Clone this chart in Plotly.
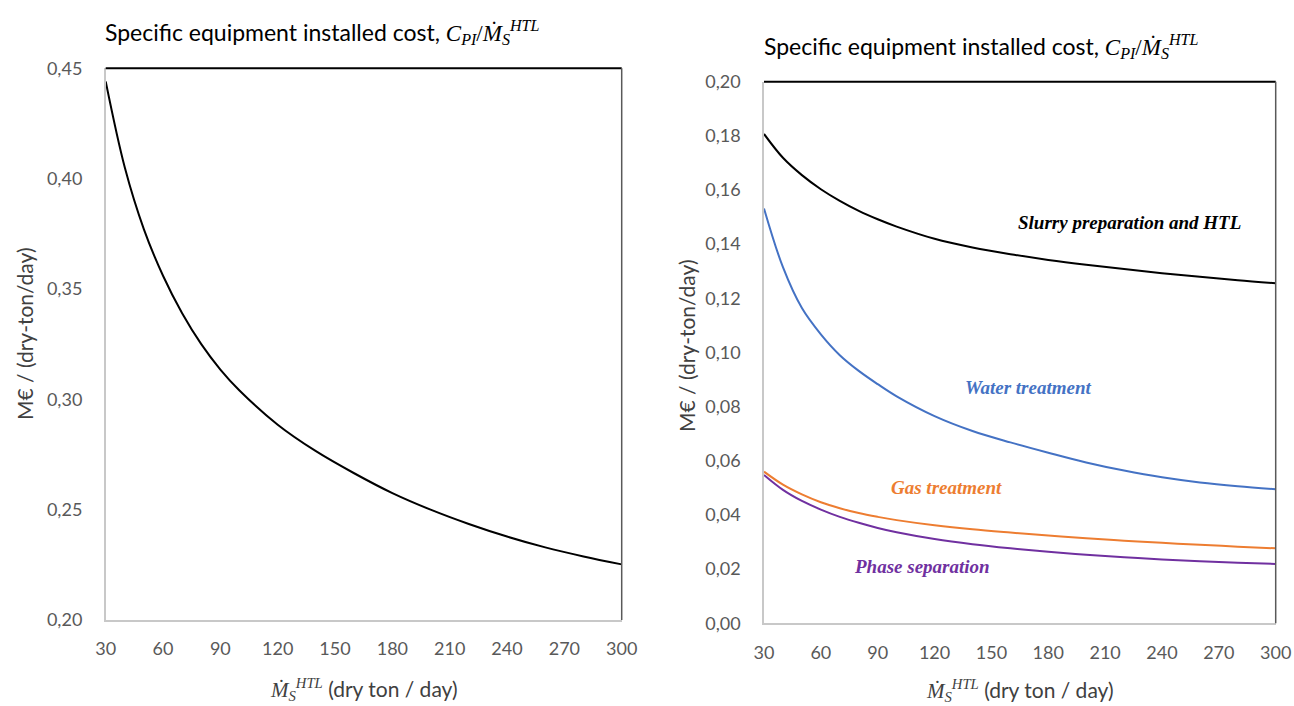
import plotly.graph_objects as go

# ---- data ----
x_feed = [30, 40, 50, 60, 70, 80, 90, 100, 120, 140, 160, 180, 200, 220, 240, 260, 280, 300]

total_cost = [0.444, 0.405, 0.377, 0.356, 0.339, 0.325, 0.3135, 0.304, 0.2885, 0.2765, 0.2665,
              0.2575, 0.2500, 0.2435, 0.2378, 0.2329, 0.2288, 0.2252]

slurry_htl = [0.1807, 0.1719, 0.1655, 0.1603, 0.1560, 0.1523, 0.1492, 0.1465, 0.1420, 0.1388,
              0.1363, 0.1342, 0.1324, 0.1308, 0.1293, 0.1280, 0.1267, 0.1256]
water_treat = [0.1532, 0.1315, 0.1164, 0.1067, 0.0990, 0.0932, 0.0883, 0.0838, 0.0765, 0.0710,
               0.0668, 0.0630, 0.0594, 0.0564, 0.0539, 0.0520, 0.0506, 0.0495]
gas_treat = [0.0560, 0.0512, 0.0476, 0.0447, 0.0425, 0.0407, 0.0393, 0.0381, 0.0362, 0.0347,
             0.0335, 0.0324, 0.0314, 0.0305, 0.0297, 0.0290, 0.0283, 0.0277]
phase_sep = [0.0548, 0.0493, 0.0452, 0.0420, 0.0393, 0.0371, 0.0352, 0.0336, 0.0311, 0.0292,
             0.0277, 0.0264, 0.0253, 0.0244, 0.0236, 0.0229, 0.0224, 0.0219]

x_ticks = [30, 60, 90, 120, 150, 180, 210, 240, 270, 300]
y_ticks_left = [0.20, 0.25, 0.30, 0.35, 0.40, 0.45]
y_ticks_right = [0.00, 0.02, 0.04, 0.06, 0.08, 0.10, 0.12, 0.14, 0.16, 0.18, 0.20]

right_series = [
    ("Slurry preparation and HTL", slurry_htl, "#000000"),
    ("Water treatment", water_treat, "#4472C4"),
    ("Gas treatment", gas_treat, "#ED7D31"),
    ("Phase separation", phase_sep, "#7030A0"),
]

W, H = 1294, 706
FONT = "Lato"
TICK_COLOR = "#595959"
SERIF = "Liberation Serif"

fig = go.Figure()

fig.add_trace(go.Scatter(x=x_feed, y=total_cost, mode="lines", line=dict(color="#000000", width=2),
                         line_shape="spline", xaxis="x", yaxis="y", showlegend=False))
for name, vals, col in right_series:
    fig.add_trace(go.Scatter(x=x_feed, y=vals, mode="lines", line=dict(color=col, width=2),
                             line_shape="spline", name=name, xaxis="x2", yaxis="y2", showlegend=False))

xd1 = [105.7 / W, 621.7 / W]
xd2 = [764 / W, 1275.7 / W]
yd1 = [1 - 620 / H, 1 - 68.3 / H]
yd2 = [1 - 623.3 / H, 1 - 81.7 / H]

common_x = dict(range=[30, 300], tickvals=x_ticks, showgrid=False, zeroline=False, showline=True,
                linecolor="#c8c8c8", linewidth=1.5, ticks="outside", ticklen=12, automargin=False,
                tickcolor="rgba(0,0,0,0)", tickfont=dict(family=FONT, size=18, color=TICK_COLOR))
common_y = dict(showgrid=False, zeroline=False, showline=True, linecolor="#c8c8c8", linewidth=1.5,
                ticks="outside", ticklen=18, tickcolor="rgba(0,0,0,0)", tickformat=".2f",
                automargin=False, tickfont=dict(family=FONT, size=18, color=TICK_COLOR))

fig.update_layout(
    width=W, height=H,
    margin=dict(l=0, r=0, t=0, b=0, autoexpand=False),
    paper_bgcolor="white", plot_bgcolor="white",
    separators=",.",
    xaxis=dict(domain=xd1, anchor="y", **common_x),
    yaxis=dict(domain=yd1, anchor="x", range=[0.20, 0.45], tickvals=y_ticks_left, **common_y),
    xaxis2=dict(domain=xd2, anchor="y2", **common_x),
    yaxis2=dict(domain=yd2, anchor="x2", range=[0.0, 0.20], tickvals=y_ticks_right, **common_y),
)

# frame: top black line, right dark-gray line
for xr, yr in [("x", "y"), ("x2", "y2")]:
    fig.add_shape(type="line", xref=f"{xr} domain", yref=f"{yr} domain", x0=0, x1=1, y0=1, y1=1,
                  line=dict(color="#000000", width=2))
    fig.add_shape(type="line", xref=f"{xr} domain", yref=f"{yr} domain", x0=1, x1=1, y0=0, y1=1,
                  line=dict(color="#595959", width=1.5))

math_title = ("Specific equipment installed cost, "
              "<span style='font-family:Liberation Serif'><i>C</i><sub><i>PI</i></sub>/<i>Ṁ</i>"
              "<sub><i>S</i></sub><sup><i>HTL</i></sup></span>")
math_xlabel = ("<span style='font-family:Liberation Serif'><i>Ṁ</i><sub><i>S</i></sub>"
               "<sup><i>HTL</i></sup></span> (dry ton / day)")

def px_x(p):
    return p / W

def px_y(p):
    return 1 - p / H

annots = [
    dict(text=math_title, x=px_x(103), y=px_y(33), xanchor="left", size=23, color="#000000"),
    dict(text=math_title, x=px_x(762), y=px_y(46), xanchor="left", size=23, color="#000000"),
    dict(text=math_xlabel, x=px_x(364), y=px_y(689), xanchor="center", size=21, color="#404040"),
    dict(text=math_xlabel, x=px_x(1020), y=px_y(690), xanchor="center", size=21, color="#404040"),
]
for a in annots:
    fig.add_annotation(text=a["text"], x=a["x"], y=a["y"], xref="paper", yref="paper",
                       xanchor=a["xanchor"], yanchor="middle", showarrow=False,
                       font=dict(family=FONT, size=a["size"], color=a["color"]))

for xc, yc in [(24, 334), (686, 346)]:
    fig.add_annotation(text="M€ / (dry-ton/day)", x=px_x(xc), y=px_y(yc), xref="paper", yref="paper",
                       textangle=-90, showarrow=False, xanchor="center", yanchor="middle",
                       font=dict(family=FONT, size=21, color="#404040"))

labels_pos = [(1129, 223), (1028, 387), (946, 487), (922, 566)]
for (name, vals, col), (lx, ly) in zip(right_series, labels_pos):
    fig.add_annotation(text=f"<b><i>{name}</i></b>", x=px_x(lx), y=px_y(ly), xref="paper", yref="paper",
                       showarrow=False, xanchor="center", yanchor="middle",
                       font=dict(family=SERIF, size=19, color=col))

fig.write_html("out.html", config={"displayModeBar": False},
               post_script="document.body.style.margin='0';"
                           "document.body.style.overflow='hidden';")
